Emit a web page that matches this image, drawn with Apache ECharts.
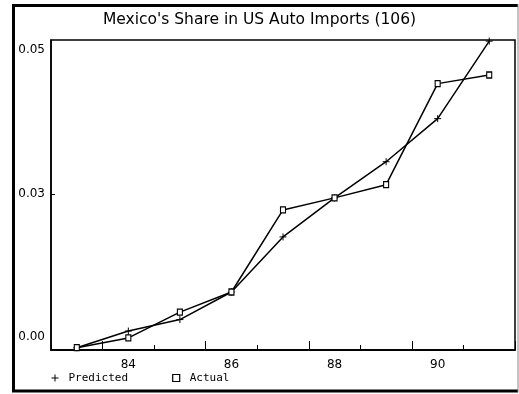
<!DOCTYPE html>
<html>
<head>
<meta charset="utf-8">
<script src="https://cdn.jsdelivr.net/npm/echarts@6/dist/echarts.min.js"></script>
<style>
  html, body { margin: 0; padding: 0; background: #fff; }
  #chart { width: 519px; height: 394px; }
</style>
</head>
<body>
<div id="chart"></div>
<script>
// Model years, 1983-1991
const years = ['83', '84', '85', '86', '87', '88', '89', '90', '91'];
// Mexico's share of US auto imports
const predicted = [-0.0018, 0.0011, 0.0031, 0.0079, 0.0175, 0.0243, 0.0306, 0.0381, 0.0516];
const actual    = [-0.0018, -0.0001, 0.0044, 0.0079, 0.0222, 0.0243, 0.0266, 0.0442, 0.0457];
// Y axis ticks and their printed labels
const yTickValues = [0, 0.025, 0.05];
const yTickLabels = ['0.00', '0.03', '0.05'];
// Years that carry a printed label
const xLabelYears = ['84', '86', '88', '90'];

const plusIcon = 'path://M0,5L10,5M5,0L5,10';
const textFont = 'DejaVu Sans';
const monoFont = 'DejaVu Sans Mono';

const chart = echarts.init(document.getElementById('chart'), null, { renderer: 'canvas' });

const xBase = {
  type: 'category',
  data: years,
  boundaryGap: true,
  position: 'bottom',
  axisLine: { show: true, onZero: false, lineStyle: { color: '#000', width: 1.5 } },
  splitLine: { show: false }
};

chart.setOption({
  animation: false,
  backgroundColor: '#fff',
  title: {
    text: "Mexico's Share in US Auto Imports (106)",
    left: 'center',
    top: 7,
    textStyle: { fontFamily: textFont, fontSize: 15.5, fontWeight: 'normal', color: '#000' }
  },
  legend: {
    left: 44,
    bottom: 5,
    itemGap: 44,
    itemWidth: 7,
    itemHeight: 7,
    textStyle: { fontFamily: monoFont, fontSize: 11, color: '#000', padding: [0, 0, 0, 5] },
    data: [
      { name: 'Predicted', icon: plusIcon, itemStyle: { color: 'none', borderColor: '#000', borderWidth: 1 } },
      { name: 'Actual', icon: 'rect', itemStyle: { color: '#fff', borderColor: '#000', borderWidth: 1.2 } }
    ]
  },
  grid: {
    left: 51, top: 40, right: 4, bottom: 44,
    show: true, borderColor: '#000', borderWidth: 1.5, backgroundColor: 'transparent'
  },
  xAxis: [
    Object.assign({}, xBase, {
      axisTick: { show: true, inside: true, length: 5, lineStyle: { color: '#000', width: 1 } },
      axisLabel: {
        show: true,
        margin: 9,
        interval: 0,
        fontFamily: textFont,
        fontSize: 12,
        color: '#000',
        formatter: v => (xLabelYears.indexOf(v) >= 0 ? v : '')
      }
    }),
    Object.assign({}, xBase, {
      axisTick: {
        show: true, inside: true, length: 9,
        interval: (idx) => idx % 2 === 1,
        lineStyle: { color: '#000', width: 1 }
      },
      axisLabel: { show: false }
    })
  ],
  yAxis: {
    type: 'value',
    min: -0.0022,
    max: 0.0518,
    axisLine: { show: true, onZero: false, lineStyle: { color: '#000', width: 1.5 } },
    splitLine: { show: false },
    axisTick: {
      show: true, inside: true, length: 4,
      customValues: [yTickValues[1]],
      lineStyle: { color: '#000', width: 1 }
    },
    axisLabel: {
      show: true,
      margin: 6,
      fontFamily: textFont,
      fontSize: 12,
      color: '#000',
      customValues: yTickValues,
      formatter: v => {
        const i = yTickValues.findIndex(t => Math.abs(t - v) < 1e-9);
        return i >= 0 ? yTickLabels[i] : '';
      }
    }
  },
  series: [
    {
      name: 'Predicted',
      type: 'line',
      data: predicted,
      symbol: plusIcon,
      symbolSize: 7,
      showAllSymbol: true,
      lineStyle: { color: '#000', width: 1.5 },
      itemStyle: { color: 'none', borderColor: '#000', borderWidth: 1 },
      z: 3
    },
    {
      name: 'Actual',
      type: 'line',
      data: actual,
      symbol: 'rect',
      symbolSize: [5, 6],
      showAllSymbol: true,
      lineStyle: { color: '#000', width: 1.5 },
      itemStyle: { color: '#fff', borderColor: '#000', borderWidth: 1.2 },
      z: 4
    }
  ],
  graphic: [
    // Page frame around the whole figure
    { type: 'line', shape: { x1: 13.5, y1: 4, x2: 13.5, y2: 392 }, style: { stroke: '#000', lineWidth: 3 } },
    { type: 'line', shape: { x1: 12, y1: 5.5, x2: 518, y2: 5.5 }, style: { stroke: '#000', lineWidth: 3 } },
    { type: 'line', shape: { x1: 12, y1: 391, x2: 518, y2: 391 }, style: { stroke: '#000', lineWidth: 3 } },
    { type: 'line', shape: { x1: 518, y1: 4, x2: 518, y2: 392 }, style: { stroke: '#888', lineWidth: 1 } }
  ]
});
</script>
</body>
</html>
